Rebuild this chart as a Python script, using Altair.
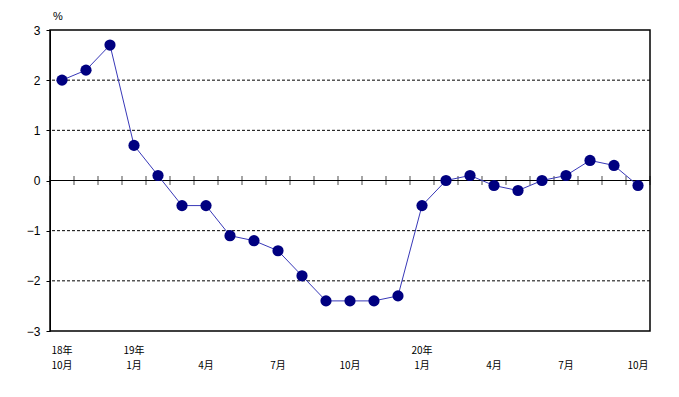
import altair as alt
import pandas as pd

values = [2.0, 2.2, 2.7, 0.7, 0.1, -0.5, -0.5, -1.1, -1.2, -1.4, -1.9, -2.4,
          -2.4, -2.4, -2.3, -0.5, 0.0, 0.1, -0.1, -0.2, 0.0, 0.1, 0.4, 0.3, -0.1]
label_idx = [0, 3, 6, 9, 12, 15, 18, 21, 24]
month_labels = ["10月", "1月", "4月", "7月", "10月", "1月", "4月", "7月", "10月"]
year_idx = [0, 3, 15]
year_labels = ["18年", "19年", "20年"]
grid_vals = [-2, -1, 1, 2]
y_ticks = [-3, -2.5, -2, -1.5, -1, -0.5, 0, 0.5, 1, 1.5, 2, 2.5, 3]

FONT = "Noto Sans CJK JP"

df = pd.DataFrame({"x": [i + 0.5 for i in range(len(values))], "v": values})
mdf = pd.DataFrame({"x": [i + 0.5 for i in label_idx], "t": month_labels})
ydf = pd.DataFrame({"x": [i + 0.5 for i in year_idx], "t": year_labels})
gdf = pd.DataFrame({"y": grid_vals})
tdf = pd.DataFrame({"x": list(range(0, 26))})

xs = alt.Scale(domain=[0, 25], nice=False, zero=False)
ys = alt.Scale(domain=[-3, 3], nice=False, zero=False)

xax = alt.X("x:Q", scale=xs, axis=None)

grid = alt.Chart(gdf).mark_rule(color="black", strokeDash=[3, 2], strokeWidth=1).encode(
    y=alt.Y("y:Q", scale=ys,
            axis=alt.Axis(values=y_ticks, labelExpr="datum.value % 1 == 0 ? format(datum.value, 'd') : ''",
                          title=None, grid=False, tickSize=4, tickColor="black", domainColor="black",
                          labelFont="Liberation Sans", labelFontSize=12, labelColor="black", labelPadding=6))
)

zero = alt.Chart(pd.DataFrame({"y": [0]})).mark_rule(color="black", strokeWidth=1).encode(
    y=alt.Y("y:Q", scale=ys)
)

ticks = alt.Chart(tdf).mark_tick(color="black", orient="vertical", size=9, thickness=1).encode(
    x=xax, y=alt.datum(0, scale=ys)
)

line = alt.Chart(df).mark_line(color="#3838b8", strokeWidth=1).encode(
    x=xax, y=alt.Y("v:Q", scale=ys)
)

pts = alt.Chart(df).mark_circle(color="#000080", opacity=1, size=125).encode(
    x=xax, y=alt.Y("v:Q", scale=ys)
)

mtext = alt.Chart(mdf).mark_text(font=FONT, fontSize=10, color="black", baseline="middle").encode(
    x=xax, text="t:N", y=alt.value(336)
)
ytext = alt.Chart(ydf).mark_text(font=FONT, fontSize=10, color="black", baseline="middle").encode(
    x=xax, text="t:N", y=alt.value(321)
)
pct = alt.Chart(pd.DataFrame({"t": ["%"]})).mark_text(font="Liberation Sans", fontSize=11, color="black", baseline="middle").encode(
    text="t:N", x=alt.value(8), y=alt.value(-13)
)

chart = alt.layer(grid, zero, ticks, line, pts, mtext, ytext, pct).properties(
    width=600, height=301,
    autosize=alt.AutoSizeParams(type="none"),
    padding={"left": 42, "top": 22, "right": 20, "bottom": 50},
    background="white",
).configure_view(stroke="black", strokeWidth=1.5, strokeOpacity=1)

chart.save("out.html", embed_options={"renderer": "svg", "actions": False})
